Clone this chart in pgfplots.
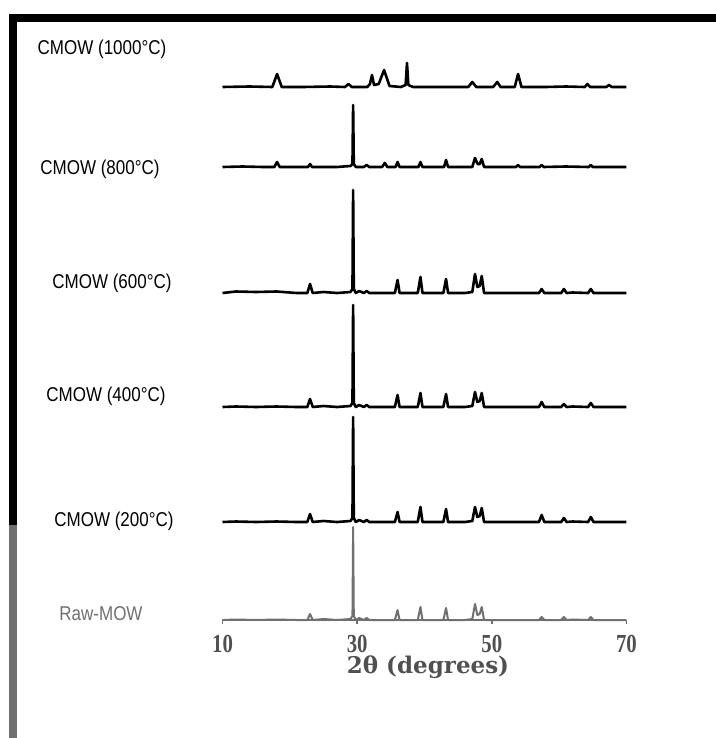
\documentclass[border=0pt]{standalone}
\usepackage{fontspec}
\setmainfont{Liberation Serif}
\newfontfamily\labfont{Liberation Sans}
\newfontfamily\xlabfont{DejaVu Serif}
\usepackage{graphicx}
\usepackage{pgfplots}
\pgfplotsset{compat=1.18}
\definecolor{washed}{RGB}{112,112,112}
\definecolor{ticktext}{RGB}{80,80,80}

\begin{document}
\begin{tikzpicture}
% frame of the scanned figure, in pixel units (y downward)
\begin{scope}[x=0.5pt,y=-0.5pt]
  \fill[white] (0,0) rectangle (716,738);
  \fill[black] (9,14) rectangle (17,525);
  \fill[washed] (9,525) rectangle (17,738);
  \fill[black] (9,14) rectangle (716,22);
\end{scope}

\begin{axis}[
  at={(111.25pt,-310pt)}, anchor=south west,
  scale only axis, width=202pt, height=302.5pt,
  xmin=10, xmax=70, ymin=0, ymax=605,
  clip=false,
  axis y line=none, axis x line*=bottom,
  x axis line style={washed, line width=0.8pt},
  xtick={10,30,50,70},
  xticklabels={\scalebox{0.8}[1]{10},\scalebox{0.8}[1]{30},\scalebox{0.8}[1]{50},\scalebox{0.8}[1]{70}},
  xtick align=outside, major tick length=2pt,
  xtick style={washed, line width=0.8pt},
  xticklabel style={text=ticktext, font=\fontsize{13}{13}\selectfont\bfseries, yshift=-2pt},
  every axis plot/.append style={line width=1.3pt, line join=round, black},
]
% Raw-MOW
\addplot[washed, line width=1pt] coordinates {
 (10,0) (12,0.5) (15,0) (18,0.5) (21,0) (22.6,0) (23.0,6) (23.4,0) (25,1) (27,0)
 (29.0,1) (29.3,4) (29.4,93) (29.5,4) (29.8,0) (30.3,2) (31.0,0) (31.4,2) (31.8,0)
 (33,0) (35.6,0) (36.0,10) (36.3,0) (38,0) (39.0,0) (39.4,13) (39.7,0) (41,0)
 (42.8,0) (43.2,12) (43.5,0) (46,0) (47.1,1) (47.5,16) (47.85,5) (48.2,6) (48.5,13)
 (48.85,0) (52,0) (55,0) (57.0,0) (57.4,3) (57.8,0) (60.3,0) (60.7,3) (61.1,0)
 (62,0.5) (64.3,0) (64.7,3) (65.1,0) (68,0) (70,0)};
% CMOW 200
\addplot[y filter/.expression={y+98}] coordinates {
 (10,0) (12,0.5) (15,0) (18,0.5) (21,0) (22.6,0) (23.0,8) (23.4,0) (25,1) (27,0)
 (29.0,1) (29.3,4) (29.4,105) (29.5,4) (29.8,0) (30.3,2) (31.0,0) (31.4,2) (31.8,0)
 (33,0) (35.6,0) (36.0,10) (36.3,0) (38,0) (39.0,0) (39.4,15) (39.7,0) (41,0)
 (42.8,0) (43.2,13) (43.5,0) (46,0) (47.1,1) (47.5,15) (47.85,5) (48.2,6) (48.5,14)
 (48.85,0) (52,0) (55,0) (57.0,0) (57.4,7) (57.8,0) (60.3,0) (60.7,4) (61.1,0)
 (62,0.5) (64.3,0) (64.7,5) (65.1,0) (68,0) (70,0)};
% CMOW 400
\addplot[y filter/.expression={y+213}] coordinates {
 (10,0) (12,0.5) (15,0) (18,0.5) (21,0) (22.6,0) (23.0,8) (23.4,0) (25,1) (27,0)
 (29.0,1) (29.3,4) (29.4,102) (29.5,4) (29.8,0) (30.3,2) (31.0,0) (31.4,2) (31.8,0)
 (33,0) (35.6,0) (36.0,12) (36.3,0) (38,0) (39.0,0) (39.4,14) (39.7,0) (41,0)
 (42.8,0) (43.2,13) (43.5,0) (46,0) (47.1,1) (47.5,15) (47.85,5) (48.2,6) (48.5,14)
 (48.85,0) (52,0) (55,0) (57.0,0) (57.4,5) (57.8,0) (60.3,0) (60.7,3) (61.1,0)
 (62,0.5) (64.3,0) (64.7,4) (65.1,0) (68,0) (70,0)};
% CMOW 600
\addplot[y filter/.expression={y+327}] coordinates {
 (10,0) (12,1.5) (15,1) (18,1.5) (21,0) (22.6,0) (23.0,9) (23.4,0) (25,1) (27,0)
 (29.0,1) (29.3,4) (29.4,103) (29.5,4) (29.8,0) (30.3,2) (31.0,0) (31.4,2) (31.8,0)
 (33,0) (35.6,0) (36.0,13) (36.3,0) (38,0) (39.0,0) (39.4,16) (39.7,0) (41,0)
 (42.8,0) (43.2,14) (43.5,0) (46,0) (47.1,1) (47.5,19) (47.85,6) (48.2,7) (48.5,17)
 (48.85,0) (52,0) (55,0) (57.0,0) (57.4,4) (57.8,0) (60.3,0) (60.7,4) (61.1,0)
 (62,0.5) (64.3,0) (64.7,4) (65.1,0) (68,0) (70,0)};
% CMOW 800
\addplot[y filter/.expression={y+453}] coordinates {
 (10,0) (13,0.5) (16,0) (17.7,0) (18.1,5) (18.5,0) (21,0) (22.7,0) (23.0,3) (23.3,0)
 (27,0) (29.0,1) (29.3,3) (29.4,62) (29.5,3) (29.8,0) (31.0,0) (31.4,2) (31.8,0)
 (33.7,0) (34.1,4) (34.5,0) (35.7,0) (36.0,5) (36.3,0) (39.1,0) (39.4,5) (39.7,0)
 (42.9,0) (43.2,7) (43.5,0) (47.1,0) (47.5,9) (47.9,3) (48.2,3) (48.5,8) (48.85,0)
 (52,0) (53.6,0) (53.9,2) (54.2,0) (57.1,0) (57.4,2) (57.7,0) (61,0.5) (64.4,0)
 (64.7,2) (65.0,0) (70,0)};
% CMOW 1000
\addplot[y filter/.expression={y+533}] coordinates {
 (10,0) (14,0.5) (17.4,0) (18.1,13) (18.8,0) (22,0) (26,0.5) (28.2,0) (28.7,3)
 (29.2,0) (31.5,0) (31.9,3) (32.2,12) (32.5,2) (33.2,3) (34.0,17) (34.8,1) (36.5,0)
 (37.2,2) (37.4,24) (37.6,2) (38.3,0) (42,0) (46.5,0) (47.1,5) (47.7,0) (50.2,0)
 (50.8,5) (51.3,0) (53.4,0) (53.9,13) (54.4,0) (58,0) (61,0.5) (63.8,0) (64.2,3)
 (64.6,0) (67.0,0) (67.4,2) (67.8,0) (70,0)};
\end{axis}

\begin{scope}[x=0.5pt,y=-0.5pt]
  \begin{scope}[every node/.style={font=\labfont\fontsize{10}{12}\selectfont}]
    \node at (102,49.5) {\scalebox{0.85}[1]{CMOW (1000°C)}};
    \node at (100,169) {\scalebox{0.85}[1]{CMOW (800°C)}};
    \node at (112,283) {\scalebox{0.85}[1]{CMOW (600°C)}};
    \node at (106,396) {\scalebox{0.85}[1]{CMOW (400°C)}};
    \node at (114,521) {\scalebox{0.85}[1]{CMOW (200°C)}};
    \node[text=washed] at (101,614) {\scalebox{0.85}[1]{Raw-MOW}};
  \end{scope}
  \node[font=\xlabfont\bfseries\fontsize{11.5}{13}\selectfont, text=ticktext] at (428,667) {2θ (degrees)};
  \pgfresetboundingbox
  \path[use as bounding box] (0,0) rectangle (716,738);
\end{scope}
\end{tikzpicture}
\end{document}
